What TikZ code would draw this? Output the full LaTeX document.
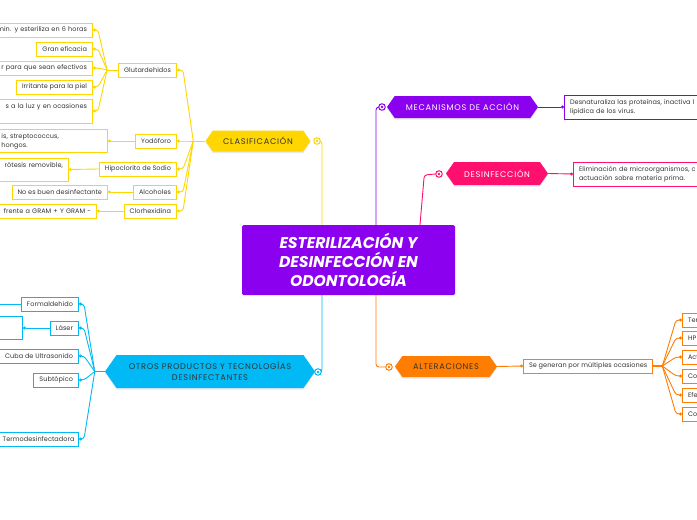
\documentclass[tikz,border=0pt]{standalone}
\usepackage{fontspec}
\setmainfont{Poppins}
\newfontfamily\hexfont[LetterSpace=9]{Poppins}
\newfontfamily\leaffont[LetterSpace=1]{Poppins}
\usetikzlibrary{shapes.symbols,arrows.meta,shadows}
\pgfdeclarelayer{background}
\pgfsetlayers{background,main}
\definecolor{ylw}{RGB}{255,214,0}
\definecolor{prp}{RGB}{140,0,240}
\definecolor{pnk}{RGB}{255,16,110}
\definecolor{org}{RGB}{255,125,0}
\definecolor{cyn}{RGB}{0,185,245}
\definecolor{txt}{RGB}{51,51,51}

\begin{document}
\begin{tikzpicture}[x=1pt,y=-1pt]
        \tikzstyle{every node}=[font=\leaffont\fontsize{6.5}{9}\selectfont,text=txt]
        \tikzstyle{hexa}=[signal,signal to=west and east,signal pointer angle=110,inner sep=0pt,align=center,
                font=\hexfont\fontsize{8.2}{11}\selectfont,
                drop shadow={shadow xshift=0pt,shadow yshift=-1.5pt,opacity=0.18}]
        \tikzstyle{leaf}=[draw,fill=white,line width=1pt,minimum height=14pt,inner xsep=5.5pt,inner ysep=2pt]
        \tikzstyle{ring}=[circle,draw,fill=white,line width=1pt,inner sep=0pt,minimum size=6.5pt]
        \tikzstyle{link}=[line width=0.9pt,rounded corners=3pt]
        \tikzstyle{dot}=[-{Circle[length=3pt]}]
        \useasboundingbox (0,0) rectangle (697,520);
        \clip (0,0) rectangle (697,520);
        % centre
        \node[fill=prp,rounded corners=1.5pt,minimum width=213pt,minimum height=70pt,
                font=\bfseries\itshape\fontsize{15.6}{19}\selectfont,text=white,align=center] (main) at (348.5,260)
                {ESTERILIZACIÓN Y\\DESINFECCIÓN EN\\ODONTOLOGÍA};
        % main topics
        \node[hexa,fill=ylw,minimum width=105pt,minimum height=21pt] (cla) at (258,141) {CLASIFICACIÓN};
        \node[hexa,fill=prp,text=white,minimum width=151pt,minimum height=22pt] (mec) at (462.5,107) {MECANISMOS DE ACCIÓN};
        \node[hexa,fill=pnk,text=white,minimum width=102pt,minimum height=23pt] (dsf) at (497,173.5) {DESINFECCIÓN};
        \node[hexa,fill=org,minimum width=102pt,minimum height=21pt] (alt) at (446,366.5) {ALTERACIONES};
        \node[hexa,fill=cyn,minimum width=210pt,minimum height=33pt] (otr) at (210,371.5) {OTROS PRODUCTOS Y TECNOLOGÍAS\\DESINFECTANTES};
        \node[ring,draw=ylw] (cla-o) at (317,141) {};
        \node[ring,draw=prp] (mec-o) at (382,107) {};
        \node[ring,draw=pnk] (dsf-o) at (439,174) {};
        \node[ring,draw=org] (alt-o) at (389,367) {};
        \node[ring,draw=cyn] (otr-o) at (318,372) {};
        \foreach \r/\c in {cla-o/ylw,mec-o/prp,dsf-o/pnk,alt-o/org,otr-o/cyn}
                \fill[\c] (\r) circle (1.3pt);
        % clasificacion
        \node[leaf,draw=ylw,anchor=east] (glu) at (177,70) {Glutardehidos};
        \node[leaf,draw=ylw,anchor=east] (yod) at (177,141) {Yodóforo};
        \node[leaf,draw=ylw,anchor=east] (hip) at (177,169) {Hipoclorito de Sodio};
        \node[leaf,draw=ylw,anchor=east] (alc) at (177,192) {Alcoholes};
        \node[leaf,draw=ylw,anchor=east] (clo) at (177,211) {Clorhexidina};
        \node[leaf,draw=ylw,anchor=east,text width=140pt,align=right] (g1) at (93,30) {min. y esteriliza en 6 horas};
        \node[leaf,draw=ylw,anchor=east] (g2) at (93,49) {Gran eficacia};
        \node[leaf,draw=ylw,anchor=east,text width=140pt,align=right] (g3) at (93,68) {r para que sean efectivos};
        \node[leaf,draw=ylw,anchor=east] (g4) at (93,87) {Irritante para la piel};
        \node[leaf,draw=ylw,anchor=east,text width=140pt,align=right,minimum height=24pt] (g5) at (93,111) {s a la luz y en ocasiones\\~};
        \node[leaf,draw=ylw,anchor=east,text width=100.5pt,align=left,minimum height=23pt] (yc) at (108,141) {is, streptococcus,\\hongos.};
        \node[leaf,draw=ylw,anchor=east,text width=80pt,align=right,minimum height=23pt] (hc) at (69,169.5) {rótesis removible,\\~};
        \node[leaf,draw=ylw,anchor=east] (ac) at (108,192) {No es buen desinfectante};
        \node[leaf,draw=ylw,anchor=east,text width=120pt,align=right] (cc) at (97,211) {frente a GRAM + Y GRAM -};
        % otros productos
        \node[leaf,draw=cyn,anchor=east] (for) at (79,304) {Formaldehido};
        \node[leaf,draw=cyn,anchor=east] (las) at (79,328) {Láser};
        \node[leaf,draw=cyn,anchor=east] (cub) at (79,356) {Cuba de Ultrasonido};
        \node[leaf,draw=cyn,anchor=east] (sub) at (79,380) {Subtópico};
        \node[leaf,draw=cyn,anchor=east,inner xsep=4pt] (ter) at (79,439) {Termodesinfectadora};
        \node[leaf,draw=cyn,anchor=east,text width=40pt,minimum height=23pt] (lc) at (23,328) {};
        \coordinate (fc) at (-5,304);
        % right side
        \node[leaf,draw=prp,anchor=west,text width=150pt,align=left,minimum height=24pt] (mc) at (564,107)
                {Desnaturaliza las proteínas, inactiva l\\lipídica de los virus.};
        \node[leaf,draw=pnk,anchor=west,text width=150pt,align=left,minimum height=24pt] (dc) at (573,174)
                {Eliminación de microorganismos, c\\actuación sobre materia prima.};
        \node[leaf,draw=org,anchor=west] (sgn) at (523,366) {Se generan por múltiples ocasiones};
        \node[leaf,draw=org,anchor=west,text width=60pt,align=left] (a1) at (682,320) {Ter};
        \node[leaf,draw=org,anchor=west,text width=60pt,align=left] (a2) at (682,338) {HP};
        \node[leaf,draw=org,anchor=west,text width=60pt,align=left] (a3) at (682,357) {Act};
        \node[leaf,draw=org,anchor=west,text width=60pt,align=left] (a4) at (682,376) {Co};
        \node[leaf,draw=org,anchor=west,text width=60pt,align=left] (a5) at (682,395) {Efe};
        \node[leaf,draw=org,anchor=west,text width=60pt,align=left] (a6) at (682,414) {Co};
        \coordinate (jc) at ([xshift=-12pt]cla.west);
        \coordinate (jg) at ([xshift=-11pt]glu.west);
        \coordinate (jo) at ([xshift=-10pt]otr.west);
        \coordinate (jr) at ([xshift=9pt]sgn.east);
        \begin{pgfonlayer}{background}
                \draw[link,ylw] (cla-o.east) -| ([xshift=-26.5pt]main.north);
                \draw[link,prp] (mec-o.west) -| ([xshift=27.5pt]main.north);
                \draw[link,pnk] (dsf-o.west) -- ++(-11,1) -- ([xshift=71.5pt]main.north);
                \draw[link,org] (alt-o.west) -| ([xshift=27.5pt]main.south);
                \draw[link,cyn] (otr-o.east) -| ([xshift=-26.5pt]main.south);
                \draw[link,ylw] (cla.west) -- (jc);
                \foreach \n in {glu,yod,hip,alc,clo}
                        \draw[link,ylw,dot] (jc) -- ([xshift=6pt]\n.east) -- (\n.east);
                \draw[link,ylw] (glu.west) -- (jg);
                \foreach \n in {g1,g2,g3,g4,g5}
                        \draw[link,ylw,dot] (jg) -- ([xshift=5pt]\n.east) -- (\n.east);
                \draw[link,ylw,dot] (yod.west) -- (yc.east);
                \draw[link,ylw,dot] (hip.west) -- (hc.east);
                \draw[link,ylw,dot] (alc.west) -- (ac.east);
                \draw[link,ylw,dot] (clo.west) -- (cc.east);
                \draw[link,cyn] (otr.west) -- (jo);
                \foreach \n in {for,las,cub,sub,ter}
                        \draw[link,cyn,dot] (jo) -- ([xshift=5pt]\n.east) -- (\n.east);
                \draw[link,cyn,dot] (las.west) -- (lc.east);
                \draw[link,cyn] (for.west) -- (fc);
                \draw[link,prp,dot] (mec.east) -- (mc.west);
                \draw[link,pnk,dot] (dsf.east) -- (dc.west);
                \draw[link,org,dot] (alt.east) -- (sgn.west);
                \draw[org,line width=1.6pt] (sgn.east) -- (jr);
                \foreach \n in {a1,a2,a3,a4,a5,a6}
                        \draw[link,org,dot] (jr) -- ([xshift=-6pt]\n.west) -- (\n.west);
        \end{pgfonlayer}
\end{tikzpicture}
\end{document}
